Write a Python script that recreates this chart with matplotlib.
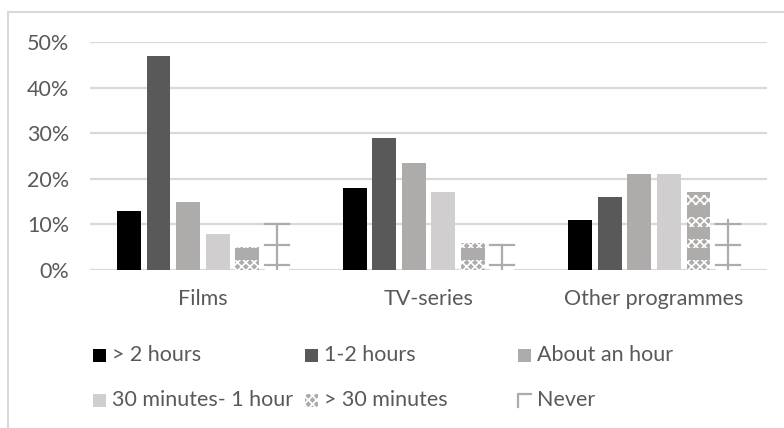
import matplotlib.pyplot as plt
from matplotlib.patches import Rectangle
from matplotlib.path import Path
import numpy as np

plt.rcParams['font.family'] = ['Lato', 'DejaVu Sans']
plt.rcParams['hatch.linewidth'] = 1.2

# Share of respondents per viewing time, by type of content
categories = ['Films', 'TV-series', 'Other programmes']
series = ['> 2 hours', '1-2 hours', 'About an hour',
          '30 minutes- 1 hour', '> 30 minutes', 'Never']
over_2h = [13, 18, 11]
h1_2 = [47, 29, 16]
about_hour = [15, 23.5, 21]
min30_1h = [8, 17, 21]
under_30 = [5, 6, 17]
never = [10, 5.5, 11]
values = [over_2h, h1_2, about_hour, min30_1h, under_30, never]

colors = ['#000000', '#595959', '#aeabab', '#d0cece', '#aeabab', '#ffffff']
text_col = '#595959'
grid_col = '#d9d9d9'

fig = plt.figure(figsize=(7.84, 4.28), dpi=100)
ax = fig.add_axes([90 / 784, 1 - 270 / 428, 677 / 784, 228 / 428])

x = np.arange(len(categories))
pitch = 0.131
width = 0.106
offsets = (np.arange(len(series)) - (len(series) - 1) / 2) * pitch

for i, (vals, col) in enumerate(zip(values, colors)):
    vals = np.array(vals) / 100
    xs = x + offsets[i]
    ax.bar(xs, vals, width, color=col, zorder=2, linewidth=0)
    if series[i] == '> 30 minutes':
        # checkered bands repeating up the bar
        for b in np.arange(0.0, 0.5, 0.0475):
            top = np.minimum(vals, b + 0.021)
            h = np.clip(top - b, 0, None)
            ax.bar(xs, h, width, bottom=b, facecolor='none', edgecolor='white',
                   hatch='xxxx', linewidth=0, zorder=3)
    if series[i] == 'Never':
        for xi, v in zip(xs, vals):
            ax.plot([xi, xi], [0, v], color='#aeabab', lw=1.6, zorder=3)
            for t in (0.01, 0.055, 0.10):
                if t <= v + 1e-9:
                    ax.plot([xi - width / 2, xi + width / 2], [t, t],
                            color='#aeabab', lw=1.6, zorder=3)

ax.set_xlim(-0.5, len(categories) - 0.5)
ax.set_ylim(0, 0.5)
ax.set_yticks(np.arange(0, 0.51, 0.1))
ax.set_yticklabels([f'{int(round(t * 100))}%' for t in np.arange(0, 0.51, 0.1)])
ax.set_xticks(x)
ax.set_xticklabels(categories)
ax.yaxis.grid(True, color=grid_col, lw=1.6, zorder=0)
ax.set_axisbelow(True)
for s in ax.spines.values():
    s.set_visible(False)
ax.tick_params(axis='both', length=0, labelsize=15.5, labelcolor=text_col)
ax.tick_params(axis='y', pad=15)
ax.tick_params(axis='x', pad=14)

# legend laid out as a 3-column grid
leg_x = [93, 305, 518]
leg_y = [355, 400]
sq = 13
for i, (name, col) in enumerate(zip(series, colors)):
    px = leg_x[i % 3]
    py = leg_y[i // 3]
    fx, fy = px / 784, 1 - (py + sq / 2) / 428
    if name == 'Never':
        fig.add_artist(plt.Line2D([fx, fx, fx + sq / 784],
                                  [fy, fy + sq / 428, fy + sq / 428],
                                  color='#aeabab', lw=1.6,
                                  transform=fig.transFigure))
    elif name == '> 30 minutes':
        fig.add_artist(Rectangle((fx, fy), sq / 784, sq / 428, facecolor='#aeabab',
                                 edgecolor='white', hatch='xxxx', lw=0,
                                 transform=fig.transFigure))
    else:
        fig.add_artist(Rectangle((fx, fy), sq / 784, sq / 428, facecolor=col,
                                 lw=0, transform=fig.transFigure))
    fig.text((px + 19) / 784, 1 - py / 428, name, fontsize=15.5, color=text_col,
             va='center', ha='left')

# chart frame
fig.add_artist(Rectangle((8 / 784, -0.1), 1.2, 1.1 - 12 / 428, fill=False,
                         edgecolor=grid_col, lw=1.5, transform=fig.transFigure))

fig.savefig('out.png', dpi=100)
